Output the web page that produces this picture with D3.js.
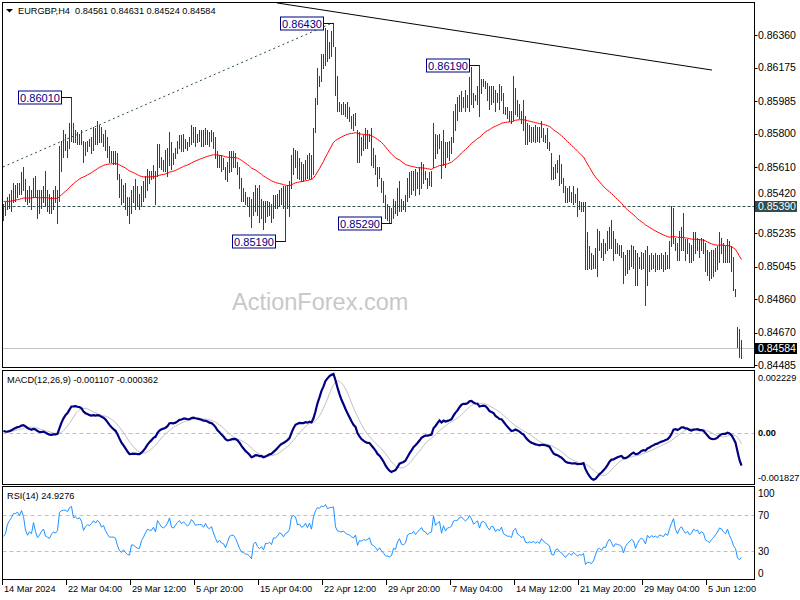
<!DOCTYPE html>
<html><head><meta charset="utf-8">
<script src="https://cdn.jsdelivr.net/npm/d3@7"></script>
<style>body{margin:0;background:#fff}svg{display:block}text{font-family:"Liberation Sans",Arial,sans-serif}</style>
</head><body><svg id="c" width="800" height="600"></svg>
<script>
const symbolTitle = "EURGBP,H4  0.84561 0.84631 0.84524 0.84584";
const macdTitle = "MACD(12,26,9) -0.001107 -0.000362";
const rsiTitle = "RSI(14) 24.9276";
const watermark = "ActionForex.com";

const highs = [
0.8540,0.8541,0.8544,0.8546,0.8548,0.8552,0.8551,0.8552,0.8552,0.8558,
0.8561,0.8554,0.8548,0.8550,0.8548,0.8555,0.8556,0.8548,0.8548,0.8548,
0.8550,0.8559,0.8548,0.8546,0.8544,0.8548,0.8550,0.8548,0.8573,0.8576,
0.8582,0.8580,0.8576,0.8586,0.8601,0.8586,0.8582,0.8581,0.8580,0.8582,
0.8576,0.8575,0.8576,0.8577,0.8578,0.8584,0.8583,0.8587,0.8585,0.8584,
0.8580,0.8582,0.8578,0.8573,0.8570,0.8570,0.8570,0.8569,0.8557,0.8554,
0.8551,0.8552,0.8544,0.8544,0.8548,0.8550,0.8554,0.8550,0.8546,0.8550,
0.8553,0.8556,0.8560,0.8559,0.8559,0.8562,0.8559,0.8574,0.8574,0.8567,
0.8565,0.8571,0.8572,0.8581,0.8575,0.8569,0.8572,0.8576,0.8579,0.8579,
0.8580,0.8577,0.8575,0.8578,0.8585,0.8584,0.8584,0.8580,0.8582,0.8582,
0.8582,0.8583,0.8582,0.8581,0.8582,0.8581,0.8578,0.8570,0.8568,0.8568,
0.8566,0.8561,0.8564,0.8570,0.8570,0.8570,0.8569,0.8564,0.8561,0.8555,
0.8549,0.8547,0.8544,0.8544,0.8543,0.8547,0.8551,0.8549,0.8551,0.8543,
0.8542,0.8542,0.8542,0.8541,0.8540,0.8545,0.8545,0.8546,0.8548,0.8549,
0.8550,0.8550,0.8551,0.8553,0.8568,0.8572,0.8571,0.8570,0.8566,0.8564,
0.8563,0.8565,0.8568,0.8569,0.8568,0.8583,0.8600,0.8617,0.8613,0.8625,
0.8625,0.8640,0.8639,0.8632,0.8638,0.8643,0.8629,0.8613,0.8598,0.8597,
0.8598,0.8597,0.8598,0.8595,0.8590,0.8591,0.8592,0.8582,0.8581,0.8578,
0.8579,0.8583,0.8582,0.8580,0.8583,0.8572,0.8568,0.8561,0.8561,0.8555,
0.8553,0.8545,0.8540,0.8539,0.8538,0.8543,0.8542,0.8549,0.8553,0.8543,
0.8542,0.8545,0.8555,0.8558,0.8559,0.8559,0.8560,0.8558,0.8561,0.8564,
0.8563,0.8559,0.8555,0.8558,0.8559,0.8586,0.8580,0.8579,0.8580,0.8576,
0.8582,0.8575,0.8575,0.8576,0.8578,0.8593,0.8597,0.8601,0.8602,0.8604,
0.8601,0.8605,0.8602,0.8612,0.8618,0.8603,0.8602,0.8607,0.8619,0.8611,
0.8611,0.8610,0.8609,0.8607,0.8607,0.8607,0.8605,0.8603,0.8608,0.8607,
0.8603,0.8595,0.8595,0.8593,0.8593,0.8613,0.8606,0.8599,0.8597,0.8593,
0.8599,0.8590,0.8586,0.8585,0.8584,0.8584,0.8585,0.8584,0.8584,0.8587,
0.8583,0.8579,0.8583,0.8575,0.8569,0.8561,0.8563,0.8565,0.8568,0.8563,
0.8555,0.8550,0.8549,0.8550,0.8547,0.8550,0.8546,0.8549,0.8542,0.8541,
0.8541,0.8541,0.8524,0.8516,0.8512,0.8511,0.8515,0.8526,0.8525,0.8518,
0.8520,0.8518,0.8525,0.8527,0.8531,0.8525,0.8520,0.8518,0.8517,0.8517,
0.8513,0.8511,0.8514,0.8514,0.8517,0.8516,0.8514,0.8512,0.8510,0.8513,
0.8512,0.8514,0.8516,0.8511,0.8512,0.8511,0.8512,0.8511,0.8511,0.8512,
0.8511,0.8513,0.8511,0.8519,0.8539,0.8538,0.8521,0.8518,0.8525,0.8527,
0.8535,0.8520,0.8520,0.8518,0.8517,0.8524,0.8524,0.8521,0.8520,0.8521,
0.8520,0.8518,0.8514,0.8513,0.8514,0.8514,0.8515,0.8516,0.8524,0.8521,
0.8518,0.8516,0.8520,0.8519,0.8516,0.8510,0.8492,0.8470,0.8469,0.84631];

const lows = [
0.8531,0.8534,0.8537,0.8538,0.8536,0.8541,0.8542,0.8544,0.8546,0.8546,
0.8548,0.8542,0.8540,0.8541,0.8537,0.8544,0.8544,0.8532,0.8535,0.8538,
0.8541,0.8539,0.8536,0.8535,0.8535,0.8537,0.8541,0.8529,0.8542,0.8559,
0.8567,0.8571,0.8567,0.8572,0.8576,0.8575,0.8575,0.8574,0.8574,0.8574,
0.8564,0.8568,0.8570,0.8573,0.8569,0.8571,0.8574,0.8574,0.8575,0.8575,
0.8573,0.8571,0.8567,0.8564,0.8564,0.8563,0.8563,0.8554,0.8544,0.8540,
0.8541,0.8537,0.8534,0.8529,0.8535,0.8541,0.8537,0.8539,0.8537,0.8539,
0.8542,0.8544,0.8548,0.8552,0.8554,0.8555,0.8540,0.8556,0.8561,0.8560,
0.8559,0.8559,0.8556,0.8562,0.8560,0.8563,0.8566,0.8569,0.8572,0.8570,
0.8570,0.8572,0.8571,0.8573,0.8574,0.8575,0.8573,0.8575,0.8576,0.8573,
0.8573,0.8574,0.8574,0.8573,0.8576,0.8572,0.8566,0.8561,0.8561,0.8559,
0.8560,0.8554,0.8553,0.8558,0.8559,0.8561,0.8561,0.8557,0.8549,0.8542,
0.8542,0.8540,0.8539,0.8533,0.8527,0.8534,0.8536,0.8534,0.8530,0.8532,
0.8526,0.8530,0.8533,0.8534,0.8530,0.8532,0.8538,0.8538,0.8539,0.8540,
0.8538,0.8519,0.8538,0.8533,0.8549,0.8557,0.8561,0.8555,0.8554,0.8553,
0.8553,0.8554,0.8555,0.8554,0.8555,0.8557,0.8581,0.8597,0.8607,0.8610,
0.8617,0.8619,0.8621,0.8623,0.8624,0.8630,0.8602,0.8593,0.8593,0.8591,
0.8591,0.8590,0.8589,0.8587,0.8583,0.8582,0.8585,0.8564,0.8564,0.8568,
0.8571,0.8572,0.8572,0.8576,0.8562,0.8561,0.8557,0.8550,0.8555,0.8547,
0.8541,0.8532,0.8531,0.8530,0.8529,0.8532,0.8535,0.8534,0.8536,0.8536,
0.8537,0.8536,0.8542,0.8544,0.8546,0.8548,0.8545,0.8549,0.8546,0.8549,
0.8552,0.8554,0.8549,0.8551,0.8550,0.8561,0.8566,0.8569,0.8572,0.8555,
0.8562,0.8561,0.8567,0.8565,0.8569,0.8575,0.8582,0.8588,0.8593,0.8593,
0.8595,0.8593,0.8595,0.8593,0.8597,0.8595,0.8599,0.8597,0.8590,0.8603,
0.8607,0.8606,0.8599,0.8594,0.8597,0.8598,0.8593,0.8598,0.8594,0.8599,
0.8592,0.8591,0.8589,0.8587,0.8586,0.8588,0.8591,0.8590,0.8589,0.8586,
0.8582,0.8574,0.8574,0.8576,0.8575,0.8576,0.8575,0.8576,0.8575,0.8578,
0.8576,0.8575,0.8572,0.8571,0.8554,0.8554,0.8555,0.8558,0.8551,0.8552,
0.8547,0.8541,0.8541,0.8542,0.8541,0.8540,0.8541,0.8533,0.8537,0.8536,
0.8536,0.8503,0.8503,0.8504,0.8503,0.8504,0.8504,0.8499,0.8514,0.8510,
0.8508,0.8512,0.8514,0.8515,0.8515,0.8508,0.8512,0.8512,0.8511,0.8510,
0.8495,0.8500,0.8501,0.8503,0.8505,0.8504,0.8494,0.8494,0.8504,0.8503,
0.8504,0.8483,0.8494,0.8502,0.8503,0.8504,0.8502,0.8503,0.8503,0.8504,
0.8502,0.8503,0.8504,0.8504,0.8516,0.8518,0.8514,0.8508,0.8508,0.8514,
0.8514,0.8508,0.8512,0.8507,0.8507,0.8508,0.8512,0.8514,0.8510,0.8514,
0.8512,0.8502,0.8500,0.8497,0.8498,0.8499,0.8502,0.8503,0.8507,0.8512,
0.8507,0.8507,0.8507,0.8507,0.8502,0.8491,0.8488,0.8459,0.8453,0.84524];

const closes = [
0.8537,0.8538,0.8542,0.8544,0.8546,0.8549,0.8549,0.8550,0.8549,0.8553,
0.8551,0.8545,0.8542,0.8544,0.8543,0.8551,0.8545,0.8540,0.8542,0.8545,
0.8547,0.8541,0.8540,0.8539,0.8542,0.8544,0.8543,0.8545,0.8569,0.8573,
0.8574,0.8574,0.8573,0.8582,0.8585,0.8576,0.8578,0.8576,0.8578,0.8575,
0.8566,0.8571,0.8574,0.8573,0.8576,0.8580,0.8578,0.8582,0.8580,0.8576,
0.8578,0.8573,0.8569,0.8566,0.8566,0.8566,0.8565,0.8556,0.8548,0.8545,
0.8547,0.8542,0.8538,0.8537,0.8545,0.8545,0.8542,0.8540,0.8540,0.8546,
0.8549,0.8553,0.8557,0.8556,0.8556,0.8559,0.8555,0.8569,0.8566,0.8563,
0.8562,0.8564,0.8568,0.8576,0.8567,0.8566,0.8570,0.8574,0.8577,0.8574,
0.8577,0.8575,0.8573,0.8576,0.8582,0.8580,0.8577,0.8578,0.8578,0.8578,
0.8576,0.8580,0.8577,0.8576,0.8578,0.8573,0.8568,0.8563,0.8565,0.8562,
0.8561,0.8556,0.8560,0.8565,0.8566,0.8566,0.8563,0.8558,0.8551,0.8545,
0.8544,0.8541,0.8541,0.8537,0.8532,0.8543,0.8545,0.8538,0.8534,0.8536,
0.8530,0.8536,0.8536,0.8537,0.8534,0.8540,0.8540,0.8542,0.8545,0.8544,
0.8541,0.8544,0.8545,0.8548,0.8565,0.8567,0.8566,0.8559,0.8560,0.8557,
0.8558,0.8562,0.8558,0.8564,0.8558,0.8580,0.8597,0.8610,0.8609,0.8620,
0.8619,0.8630,0.8625,0.8629,0.8630,0.8632,0.8604,0.8596,0.8595,0.8594,
0.8596,0.8592,0.8590,0.8589,0.8586,0.8584,0.8588,0.8568,0.8575,0.8574,
0.8576,0.8575,0.8576,0.8578,0.8566,0.8564,0.8560,0.8553,0.8556,0.8549,
0.8543,0.8535,0.8534,0.8532,0.8533,0.8540,0.8538,0.8546,0.8550,0.8540,
0.8539,0.8541,0.8551,0.8553,0.8553,0.8556,0.8552,0.8555,0.8558,0.8561,
0.8557,0.8556,0.8553,0.8555,0.8556,0.8582,0.8570,0.8575,0.8578,0.8560,
0.8576,0.8566,0.8573,0.8574,0.8577,0.8590,0.8592,0.8592,0.8600,0.8601,
0.8598,0.8596,0.8600,0.8609,0.8605,0.8598,0.8601,0.8605,0.8595,0.8608,
0.8609,0.8607,0.8601,0.8597,0.8604,0.8603,0.8596,0.8600,0.8598,0.8604,
0.8594,0.8592,0.8590,0.8590,0.8588,0.8598,0.8601,0.8593,0.8591,0.8588,
0.8589,0.8580,0.8579,0.8580,0.8579,0.8580,0.8578,0.8579,0.8577,0.8581,
0.8578,0.8576,0.8574,0.8572,0.8558,0.8556,0.8560,0.8561,0.8556,0.8554,
0.8549,0.8544,0.8546,0.8547,0.8543,0.8545,0.8542,0.8538,0.8539,0.8538,
0.8539,0.8508,0.8510,0.8508,0.8505,0.8507,0.8512,0.8517,0.8518,0.8514,
0.8517,0.8516,0.8521,0.8524,0.8519,0.8512,0.8515,0.8514,0.8513,0.8511,
0.8499,0.8505,0.8508,0.8510,0.8512,0.8510,0.8498,0.8503,0.8507,0.8509,
0.8506,0.8500,0.8510,0.8506,0.8509,0.8507,0.8508,0.8506,0.8509,0.8508,
0.8507,0.8510,0.8508,0.8515,0.8522,0.8530,0.8518,0.8512,0.8520,0.8523,
0.8518,0.8514,0.8517,0.8512,0.8514,0.8520,0.8518,0.8519,0.8514,0.8517,
0.8515,0.8506,0.8504,0.8502,0.8505,0.8507,0.8510,0.8513,0.8518,0.8517,
0.8514,0.8512,0.8517,0.8510,0.8505,0.8495,0.8490,0.8463,0.8456,0.84584];

const maPeriod = 55, maSeed = 0.85418;
const macdFast = 12, macdSlow = 26, macdSignal = 9;
const emaFastSeed = 0.85425, emaSlowSeed = 0.85411;
const rsiPeriod = 14, rsiSeedGain = 0.000060, rsiSeedLoss = 0.000070;

const priceTicks = [0.86360,0.86175,0.85985,0.85800,0.85610,0.85420,0.85235,0.85045,0.84860,0.84670,0.84485];
const priceDomain = [0.84485, 0.86360];
const macdDomain = [-0.001827, 0.002229];
const macdTickLabels = ["0.002229","0.00","-0.001827"];
const macdTickValues = [0.002229, 0, -0.001827];
const rsiTicks = [100, 70, 30, 0];
const rsiLevels = [70, 30];

const timeLabels = ["14 Mar 2024","22 Mar 04:00","29 Mar 12:00","5 Apr 20:00","15 Apr 04:00","22 Apr 12:00","29 Apr 20:00","7 May 04:00","14 May 12:00","21 May 20:00","29 May 04:00","5 Jun 12:00"];
const timeLabelBars = [0,32,64,96,128,160,192,224,256,288,320,352];

const swingBars   = [34, 141, 165, 194, 238];
const swingPrices = [0.86010, 0.85190, 0.86430, 0.85290, 0.86190];

const keyLevel = 0.85390;
const lastPrice = 0.84584;
const channelLine = [[0, 0.85611], [165, 0.86430]];
const resistanceLine = [[137, 0.86542], [354.5, 0.86161]];

// ---------- computations ----------
const N = closes.length;
function ema(vals, period, seed){ const k = 2/(period+1); let e = seed; return vals.map(v => (e = e + k*(v - e))); }
const ma = ema(closes, maPeriod, maSeed);
const eF = ema(closes, macdFast, emaFastSeed), eS = ema(closes, macdSlow, emaSlowSeed);
const macd = eF.map((v,i) => v - eS[i]);
const signal = macd.map((v,i) => d3.mean(macd.slice(Math.max(0, i - macdSignal + 1), i + 1)));
const rsi = []; { let g = rsiSeedGain, l = rsiSeedLoss;
  for (let i = 0; i < N; i++){ const ch = i === 0 ? 0 : closes[i] - closes[i-1];
    g = (g*(rsiPeriod-1) + Math.max(ch,0))/rsiPeriod; l = (l*(rsiPeriod-1) + Math.max(-ch,0))/rsiPeriod;
    rsi.push(l === 0 ? 100 : 100 - 100/(1 + g/l)); } }

// ---------- layout ----------
const svg = d3.select("#c");
const L = 2.5, R = 754.5;
const P1 = [2.5, 367.5], P2 = [370.5, 484.5], P3 = [486.5, 579.5];
const x = d3.scaleLinear().domain([0, 369]).range([3, 741]);
const yP = d3.scaleLinear().domain(priceDomain).range([365.3, 35]);
const yM = d3.scaleLinear().domain(macdDomain).range([484.5, 370.5]);
const yR = d3.scaleLinear().domain([0, 100]).range([578, 488]);
const px = i => Math.round(x(i)) + 0.5;

const defs = svg.append("defs");
[["c1",P1],["c2",P2],["c3",P3]].forEach(([id,p]) => defs.append("clipPath").attr("id", id)
  .append("rect").attr("x", L+0.5).attr("y", p[0]+0.5).attr("width", R-L-1).attr("height", p[1]-p[0]-1));

// watermark
svg.append("text").attr("x", 232).attr("y", 310).attr("font-size", 23.5).attr("fill", "#c8c8c8").text(watermark);

const g1 = svg.append("g").attr("clip-path", "url(#c1)");
g1.append("line").attr("x1", L).attr("x2", R).attr("y1", Math.round(yP(keyLevel))+0.5).attr("y2", Math.round(yP(keyLevel))+0.5)
  .attr("stroke", "#2f4f4f").attr("stroke-dasharray", "3,2");
g1.append("line").attr("x1", L).attr("x2", R).attr("y1", Math.round(yP(lastPrice))+0.5).attr("y2", Math.round(yP(lastPrice))+0.5)
  .attr("stroke", "#c0c0c0");
g1.append("line").attr("x1", x(channelLine[0][0])).attr("y1", yP(channelLine[0][1])).attr("x2", x(channelLine[1][0])).attr("y2", yP(channelLine[1][1]))
  .attr("stroke", "#2f4f4f").attr("stroke-dasharray", "2,3");
g1.append("line").attr("x1", x(resistanceLine[0][0])).attr("y1", yP(resistanceLine[0][1])).attr("x2", x(resistanceLine[1][0])).attr("y2", yP(resistanceLine[1][1]))
  .attr("stroke", "#000");
g1.append("g").attr("shape-rendering", "crispEdges").selectAll("line").data(d3.range(N)).join("line")
  .attr("x1", px).attr("x2", px)
  .attr("y1", i => Math.round(yP(highs[i]))).attr("y2", i => Math.round(yP(lows[i])) + 1)
  .attr("stroke", "#1b4766").attr("stroke-width", 1);
g1.append("path").datum(ma).attr("fill", "none").attr("stroke", "#ff0000").attr("stroke-width", 1)
  .attr("d", d3.line().x((d,i) => x(i) + 0.5).y(d => yP(d)));
const fmt5 = d3.format(".5f");
const sw = g1.append("g");
swingBars.forEach((b, k) => {
  const yy = Math.round(yP(swingPrices[k])) + 0.5, xr = Math.round(x(b)) - 9.5;
  sw.append("line").attr("x1", xr).attr("x2", px(b)).attr("y1", yy).attr("y2", yy).attr("stroke", "#000080");
  sw.append("rect").attr("x", xr - 43).attr("y", yy - 6.5).attr("width", 43).attr("height", 13)
    .attr("fill", "#fff").attr("stroke", "#000080");
  sw.append("text").attr("x", xr - 21.5).attr("y", yy + 4).attr("text-anchor", "middle").attr("font-size", 11)
    .attr("fill", "#000080").text(fmt5(swingPrices[k]));
});

// MACD panel
const g2 = svg.append("g").attr("clip-path", "url(#c2)");
g2.append("line").attr("x1", L).attr("x2", R).attr("y1", Math.round(yM(0))+0.5).attr("y2", Math.round(yM(0))+0.5)
  .attr("stroke", "#c0c0c0").attr("stroke-dasharray", "4,3");
g2.append("path").datum(signal).attr("fill", "none").attr("stroke", "#c0c0c0").attr("stroke-width", 1)
  .attr("d", d3.line().x((d,i) => x(i)+0.5).y(d => yM(d)));
g2.append("path").datum(macd).attr("fill", "none").attr("stroke", "#000080").attr("stroke-width", 2.2)
  .attr("d", d3.line().x((d,i) => x(i)+0.5).y(d => yM(d)));

// RSI panel
const g3 = svg.append("g").attr("clip-path", "url(#c3)");
rsiLevels.forEach(v => g3.append("line").attr("x1", L).attr("x2", R).attr("y1", Math.round(yR(v))+0.5).attr("y2", Math.round(yR(v))+0.5)
  .attr("stroke", "#c0c0c0").attr("stroke-dasharray", "4,3"));
g3.append("path").datum(rsi).attr("fill", "none").attr("stroke", "#1e90ff").attr("stroke-width", 1)
  .attr("d", d3.line().x((d,i) => x(i)+0.5).y(d => yR(d)));

// frames
[P1,P2,P3].forEach(p => svg.append("rect").attr("x", L).attr("y", p[0]).attr("width", R-L).attr("height", p[1]-p[0])
  .attr("fill", "none").attr("stroke", "#000").attr("shape-rendering", "crispEdges"));

// titles
svg.append("path").attr("d", "M6,9L13,9L9.5,12.5Z").attr("fill", "#000");
svg.append("text").attr("x", 18).attr("y", 14).attr("font-size", 9.2).attr("fill", "#000").style("white-space","pre").text(symbolTitle);
svg.append("text").attr("x", 7).attr("y", 383).attr("font-size", 9.2).attr("fill", "#000").text(macdTitle);
svg.append("text").attr("x", 7).attr("y", 499).attr("font-size", 9.2).attr("fill", "#000").text(rsiTitle);

// right axis
const ax = svg.append("g").attr("font-size", 10.5).attr("fill", "#000");
const boxTop = Math.round(yP(keyLevel)) - 5;
priceTicks.forEach(p => {
  let yy = yP(p);
  ax.append("line").attr("x1", R).attr("x2", R+3).attr("y1", Math.round(yy)+0.5).attr("y2", Math.round(yy)+0.5).attr("stroke", "#000");
  // a tick label that would sit under the key-level box is lifted just above it
  if (Math.abs(yy - yP(keyLevel)) < 11) yy = boxTop - 8;
  ax.append("text").attr("x", 758).attr("y", yy).attr("dy", "0.35em").text(fmt5(p));
});
[[keyLevel, "#2f4f4f"], [lastPrice, "#000"]].forEach(([p, c]) => {
  const yy = yP(p);
  ax.append("rect").attr("x", 755).attr("y", Math.round(yy) - 5).attr("width", 42).attr("height", 11).attr("fill", c);
  ax.append("text").attr("x", 758).attr("y", yy).attr("dy", "0.35em").attr("fill", "#fff").text(fmt5(p));
});
macdTickValues.forEach((v, k) => {
  const yy = k === 0 ? yM(v) + 7 : (k === 2 ? yM(v) - 7 : yM(v));
  ax.append("text").attr("x", 758).attr("y", yy).attr("dy", "0.35em").attr("font-size", 9.2)
    .attr("font-weight", k === 1 ? "bold" : null).text(macdTickLabels[k]);
});
rsiTicks.forEach(v => {
  const yy = v === 100 ? yR(v) + 5 : (v === 0 ? yR(v) - 5 : yR(v));
  ax.append("text").attr("x", 758).attr("y", yy).attr("dy", "0.35em").attr("font-size", 10).text(v);
});

// time axis
const tx = svg.append("g").attr("font-size", 9.2).attr("fill", "#000");
timeLabelBars.forEach((b, k) => {
  tx.append("line").attr("x1", px(b) - 1).attr("x2", px(b) - 1).attr("y1", 580).attr("y2", 585).attr("stroke", "#000");
  tx.append("text").attr("x", x(b) + 1).attr("y", 592).text(timeLabels[k]);
});
</script></body></html>
